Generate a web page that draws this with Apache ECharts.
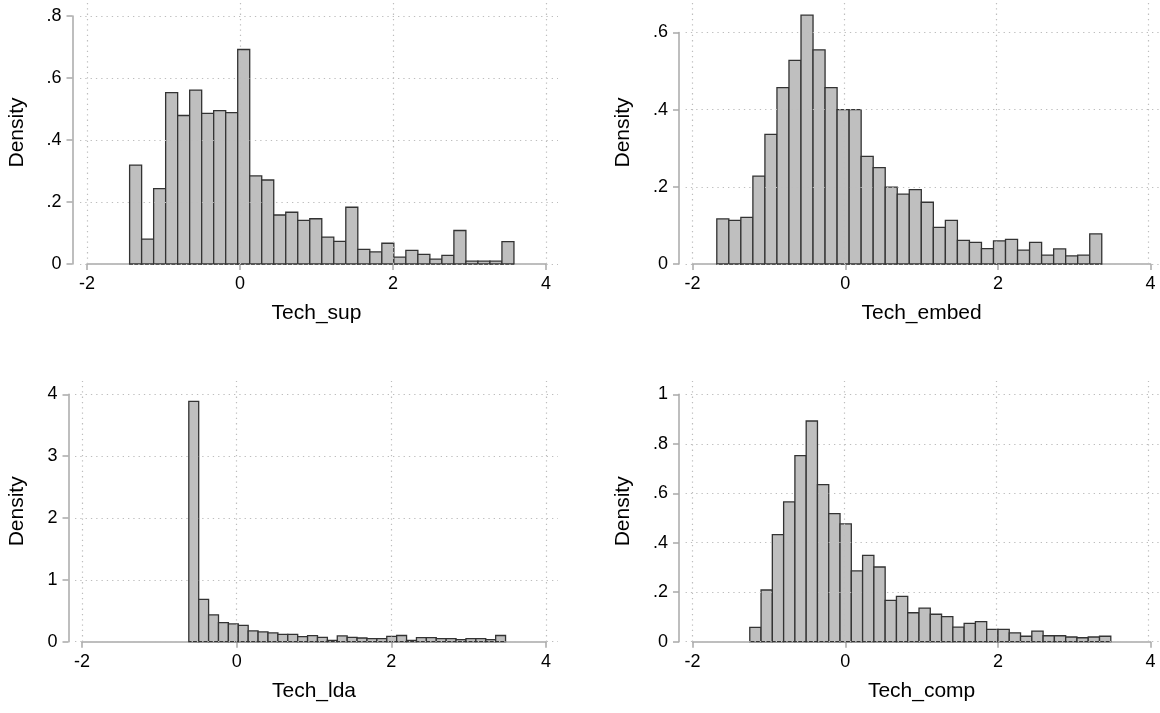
<!DOCTYPE html>
<html><head><meta charset="utf-8">
<script src="https://cdn.jsdelivr.net/npm/echarts@6/dist/echarts.min.js"></script>
<style>html,body{margin:0;padding:0;background:#fff}#c{width:1160px;height:713px}</style>
</head><body><div id="c"></div>
<script>
// ---- data ----
const xTicks = [-2, 0, 2, 4];

const supStart = -1.443, supBin = 0.157;
const supHeights = [0.319, 0.080, 0.243, 0.553, 0.479, 0.561, 0.486, 0.495, 0.488, 0.692,
  0.284, 0.271, 0.158, 0.167, 0.141, 0.146, 0.087, 0.073, 0.183, 0.047,
  0.039, 0.067, 0.022, 0.044, 0.031, 0.016, 0.028, 0.108, 0.009, 0.009,
  0.009, 0.072];
const supYTicks = [0, 0.2, 0.4, 0.6, 0.8];

const embedStart = -1.683, embedBin = 0.1576;
const embedHeights = [0.117, 0.113, 0.121, 0.228, 0.336, 0.457, 0.528, 0.645, 0.555, 0.457,
  0.400, 0.400, 0.279, 0.250, 0.199, 0.181, 0.193, 0.160, 0.095, 0.113,
  0.061, 0.056, 0.040, 0.060, 0.064, 0.036, 0.056, 0.023, 0.039, 0.021,
  0.023, 0.078];
const embedYTicks = [0, 0.2, 0.4, 0.6];

const ldaStart = -0.619, ldaBin = 0.128;
const ldaHeights = [3.887, 0.685, 0.435, 0.308, 0.287, 0.264, 0.175, 0.158, 0.142, 0.120,
  0.120, 0.083, 0.097, 0.070, 0.022, 0.094, 0.070, 0.060, 0.049, 0.049,
  0.086, 0.100, 0.022, 0.065, 0.065, 0.049, 0.049, 0.032, 0.049, 0.049,
  0.032, 0.100];
const ldaYTicks = [0, 1, 2, 3, 4];

const compStart = -1.251, compBin = 0.1478;
const compHeights = [0.058, 0.209, 0.433, 0.565, 0.752, 0.892, 0.635, 0.518, 0.476, 0.286,
  0.349, 0.302, 0.167, 0.183, 0.117, 0.136, 0.111, 0.101, 0.059, 0.074,
  0.081, 0.050, 0.050, 0.036, 0.022, 0.043, 0.024, 0.024, 0.019, 0.016,
  0.019, 0.022];
const compYTicks = [0, 0.2, 0.4, 0.6, 0.8, 1];

// ---- layout ----
const FONT = '"Liberation Sans", Helvetica, Arial, sans-serif';
const panels = [
  {name: 'Tech_sup', start: supStart, bin: supBin, h: supHeights, yt: supYTicks,
   left: 87, width: 459, top: 16, bottom: 264, bTop: 1, axisX: 72.5, densX: 18},
  {name: 'Tech_embed', start: embedStart, bin: embedBin, h: embedHeights, yt: embedYTicks,
   left: 692.6, width: 458, top: 32.5, bottom: 264, bTop: 1, axisX: 679, densX: 624},
  {name: 'Tech_lda', start: ldaStart, bin: ldaBin, h: ldaHeights, yt: ldaYTicks,
   left: 82, width: 464, top: 394.3, bottom: 641.7, bTop: 381, axisX: 68.5, densX: 18},
  {name: 'Tech_comp', start: compStart, bin: compBin, h: compHeights, yt: compYTicks,
   left: 692.6, width: 458, top: 394.3, bottom: 641.7, bTop: 381, axisX: 679, densX: 624}
];
const PAD_L = 7, PAD_R = 12;
const AXIS_COLOR = '#a9a9a9';

const grid = [], xAxis = [], yAxis = [], series = [];
const fmt = v => (v === 0 ? '0' : String(+v.toFixed(4)).replace(/^0\./, '.'));

panels.forEach((p, i) => {
  const gA = 2 * i, gB = 2 * i + 1;
  const yMax = p.yt[p.yt.length - 1];
  const yStep = p.yt[1] - p.yt[0];
  const hA = p.bottom - p.top;
  grid.push({left: p.left, top: p.top, width: p.width, height: hA});
  grid.push({left: p.left - PAD_L, top: p.bTop, width: p.width + PAD_L + PAD_R, height: p.bottom - p.bTop});

  xAxis.push({
    gridIndex: gA, type: 'value', min: -2, max: 4, interval: 2,
    axisLine: {show: true, onZero: false, lineStyle: {color: AXIS_COLOR, width: 1.5}},
    axisTick: {show: true, length: 6, lineStyle: {color: AXIS_COLOR, width: 1.5}},
    axisLabel: {fontSize: 18, color: '#000', margin: 11, fontFamily: FONT, formatter: fmt},
    splitLine: {show: false},
    name: p.name, nameLocation: 'middle', nameGap: 39,
    nameTextStyle: {fontSize: 21, color: '#000', fontFamily: FONT}
  });
  yAxis.push({
    gridIndex: gA, type: 'value', min: 0, max: yMax, interval: yStep,
    offset: p.left - p.axisX,
    axisLine: {show: true, onZero: false, lineStyle: {color: AXIS_COLOR, width: 1.5}},
    axisTick: {show: true, length: 6, lineStyle: {color: AXIS_COLOR, width: 1.5}},
    axisLabel: {fontSize: 18, color: '#000', margin: 11, fontFamily: FONT, formatter: fmt},
    splitLine: {show: false}
  });
  const unitX = 6 / p.width;
  xAxis.push({gridIndex: gB, type: 'value', min: -2 - PAD_L * unitX, max: 4 + PAD_R * unitX, show: false});
  yAxis.push({
    gridIndex: gB, type: 'value', min: 0, max: yMax * (p.bottom - p.bTop) / hA,
    axisLine: {show: false, onZero: false}, axisTick: {show: false}, axisLabel: {show: false}, splitLine: {show: false},
    name: 'Density', nameLocation: 'middle', nameGap: (p.left - PAD_L) - p.densX - 10,
    nameTextStyle: {fontSize: 21, color: '#000', fontFamily: FONT}
  });

  // dotted gridlines
  series.push({
    type: 'line', xAxisIndex: gB, yAxisIndex: gB, z: -1, silent: true,
    data: [[0, 0]], showSymbol: false, lineStyle: {opacity: 0},
    markLine: {
      silent: true, symbol: 'none', label: {show: false}, animation: false,
      lineStyle: {type: [1.3, 4], color: '#bdbdbd', width: 1.2},
      data: xTicks.map(v => ({xAxis: v})).concat(p.yt.map(v => ({yAxis: v})))
    }
  });

  // histogram bars
  const data = p.h.map((v, k) => [p.start + k * p.bin, p.start + (k + 1) * p.bin, v]);
  series.push({
    type: 'custom', xAxisIndex: gA, yAxisIndex: gA, z: 3, clip: false, silent: true,
    data: data, encode: {x: [0, 1], y: 2},
    renderItem: (params, api) => {
      const a = api.coord([api.value(0), 0]);
      const b = api.coord([api.value(1), api.value(2)]);
      return {
        type: 'rect',
        shape: {x: a[0], y: b[1], width: b[0] - a[0], height: a[1] - b[1]},
        style: {fill: '#bfbfbf', stroke: '#333333', lineWidth: 1.3}
      };
    }
  });
});

const chart = echarts.init(document.getElementById('c'), null, {renderer: 'canvas'});
chart.setOption({backgroundColor: '#ffffff', animation: false, grid, xAxis, yAxis, series});
</script>
</body></html>
